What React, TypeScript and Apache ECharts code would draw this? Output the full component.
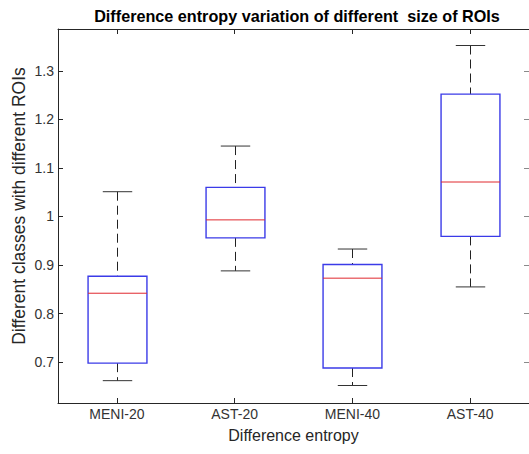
import React, { useEffect, useRef } from "react";
import * as echarts from "echarts";

const categories = ["MENI-20", "AST-20", "MENI-40", "AST-40"];
const whiskerLow = [0.662, 0.888, 0.652, 0.855];
const quartile1 = [0.698, 0.956, 0.688, 0.959];
const medians = [0.842, 0.993, 0.873, 1.071];
const quartile3 = [0.877, 1.06, 0.901, 1.252];
const whiskerHigh = [1.051, 1.145, 0.933, 1.352];
const yTicks = [0.7, 0.8, 0.9, 1, 1.1, 1.2, 1.3];
const yMin = 0.616;
const yMax = 1.386;

const titleText = "Difference entropy variation of different  size of ROIs";
const xName = "Difference entropy";
const yName = "Different classes with different ROIs";

const FONT = "'Liberation Sans', Arial, Helvetica, sans-serif";
const AXIS = "#262626";

export default function App() {
  const ref = useRef<HTMLDivElement>(null);

  useEffect(() => {
    document.body.style.margin = "0";
    if (!ref.current) return;
    const chart = echarts.init(ref.current, undefined, { renderer: "svg" });

    const data = categories.map((_, i) => [
      i,
      whiskerLow[i],
      quartile1[i],
      medians[i],
      quartile3[i],
      whiskerHigh[i],
    ]);

    const tickStyle = { lineStyle: { color: AXIS, width: 1 } };

    chart.setOption({
      animation: false,
      backgroundColor: "#ffffff",
      textStyle: { fontFamily: FONT },
      grid: { left: 58, top: 29, width: 474, height: 374, containLabel: false },
      graphic: [
        {
          type: "text",
          x: 297,
          y: 16,
          style: {
            text: titleText,
            font: `bold 16.2px ${FONT}`,
            fill: "#000000",
            align: "center",
            verticalAlign: "middle",
          },
        },
        {
          type: "text",
          x: 19,
          y: 206,
          rotation: Math.PI / 2,
          style: {
            text: yName,
            font: `17.5px ${FONT}`,
            fill: "#262626",
            align: "center",
            verticalAlign: "middle",
          },
        },
      ],
      xAxis: [
        {
          type: "category",
          data: categories,
          position: "bottom",
          boundaryGap: true,
          name: xName,
          nameLocation: "middle",
          nameGap: 24,
          nameTextStyle: { fontSize: 16, color: "#262626", fontFamily: FONT },
          axisLine: { show: true, lineStyle: { color: AXIS, width: 1 } },
          axisTick: { show: true, inside: true, length: 5, alignWithLabel: true, ...tickStyle },
          axisLabel: { fontSize: 14, color: "#333333", margin: 4, fontFamily: FONT },
          splitLine: { show: false },
        },
        {
          type: "category",
          data: categories,
          position: "top",
          boundaryGap: true,
          axisLine: { show: true, lineStyle: { color: AXIS, width: 1 } },
          axisTick: { show: true, inside: true, length: 5, alignWithLabel: true, ...tickStyle },
          axisLabel: { show: false },
          splitLine: { show: false },
        },
      ],
      yAxis: [
        {
          type: "value",
          min: yMin,
          max: yMax,
          position: "left",
          axisLine: { show: true, lineStyle: { color: AXIS, width: 1 } },
          axisTick: { show: true, inside: true, length: 5, customValues: yTicks, ...tickStyle },
          axisLabel: {
            fontSize: 14,
            color: "#333333",
            margin: 4,
            fontFamily: FONT,
            customValues: yTicks,
          },
          splitLine: { show: false },
        },
        {
          type: "value",
          min: yMin,
          max: yMax,
          position: "right",
          axisLine: { show: true, lineStyle: { color: AXIS, width: 1 } },
          axisTick: {
            show: true,
            inside: true,
            length: 5,
            customValues: yTicks,
            lineStyle: { color: "#8a8a8a", width: 1 },
          },
          axisLabel: { show: false },
          splitLine: { show: false },
        },
      ],
      series: [
        {
          type: "custom",
          xAxisIndex: 0,
          yAxisIndex: 0,
          encode: { x: 0, y: [1, 2, 3, 4, 5] },
          data,
          renderItem: (params: any, api: any) => {
            const i = api.value(0);
            const lo = api.coord([i, api.value(1)]);
            const b1 = api.coord([i, api.value(2)]);
            const md = api.coord([i, api.value(3)]);
            const b3 = api.coord([i, api.value(4)]);
            const hi = api.coord([i, api.value(5)]);
            const band = api.size([1, 0])[0];
            const bw = band * 0.5;
            const cw = band * 0.25;
            const x = Math.round(lo[0]) + 0.5;
            const dash = { stroke: "#222222", lineWidth: 1, lineDash: [9, 5] };
            const cap = { stroke: "#333333", lineWidth: 1 };
            return {
              type: "group",
              children: [
                { type: "line", shape: { x1: x, y1: hi[1], x2: x, y2: b3[1] }, style: dash },
                { type: "line", shape: { x1: x, y1: b1[1], x2: x, y2: lo[1] }, style: dash },
                { type: "line", shape: { x1: x - cw / 2, y1: hi[1], x2: x + cw / 2, y2: hi[1] }, style: cap },
                { type: "line", shape: { x1: x - cw / 2, y1: lo[1], x2: x + cw / 2, y2: lo[1] }, style: cap },
                {
                  type: "rect",
                  shape: { x: x - bw / 2, y: b3[1], width: bw, height: b1[1] - b3[1] },
                  style: { fill: "none", stroke: "#3b3be8", lineWidth: 1.4 },
                },
                {
                  type: "line",
                  shape: { x1: x - bw / 2, y1: md[1], x2: x + bw / 2, y2: md[1] },
                  style: { stroke: "#e0282e", lineWidth: 1 },
                },
              ],
            };
          },
        },
      ],
    });

    return () => chart.dispose();
  }, []);

  return <div ref={ref} style={{ width: 529, height: 454 }} />;
}
